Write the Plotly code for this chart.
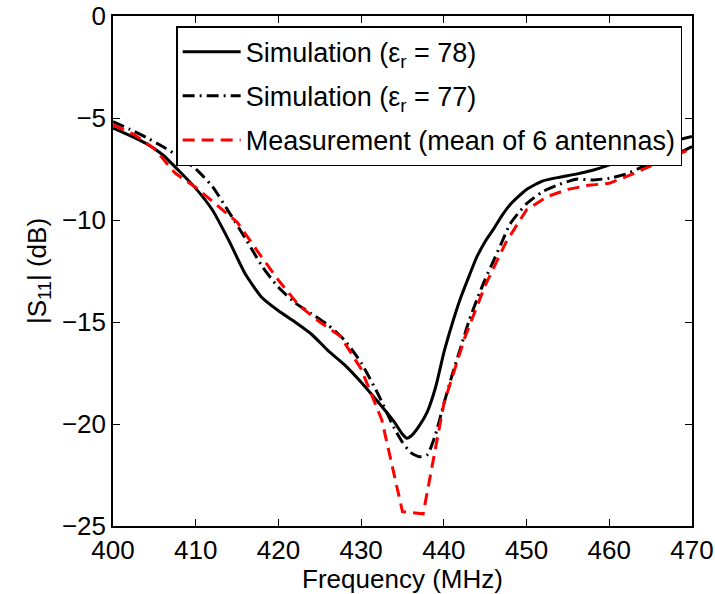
import plotly.graph_objects as go

# Simulation (eps_r = 78)
sim78_f = [400, 402, 404, 406, 408, 410, 412, 414, 416, 418, 420, 422, 424, 426, 428,
           430, 432, 434, 435, 435.5, 436, 437, 438, 439, 440, 441, 442, 443, 444, 445,
           446, 447, 448, 450, 452, 454, 456, 458, 460, 462, 464, 466, 468, 470]
sim78_s = [-5.5, -5.85, -6.25, -6.8, -7.6, -8.45, -9.5, -11.0, -12.65, -13.8, -14.45, -15.0,
           -15.6, -16.4, -17.1, -17.95, -18.9, -19.9, -20.5, -20.7, -20.6, -20.1, -19.4,
           -18.2, -16.5, -15.1, -13.85, -12.8, -11.8, -11.05, -10.45, -9.8, -9.25, -8.5,
           -8.08, -7.9, -7.75, -7.56, -7.3, -6.85, -6.55, -6.3, -6.1, -5.9]

# Simulation (eps_r = 77)
sim77_f = [400, 402, 404, 406, 408, 410, 412, 414, 416, 418, 420, 422, 424, 426, 428,
           430, 432, 434, 435, 436, 437, 438, 439, 440, 441, 442, 443, 444, 445, 446,
           447, 448, 450, 452, 454, 456, 458, 460, 462, 464, 466, 468, 470]
sim77_s = [-5.18, -5.55, -5.95, -6.4, -6.9, -7.5, -8.35, -9.6, -10.9, -12.25, -13.3, -14.05,
           -14.6, -15.15, -15.9, -17.0, -18.5, -20.2, -20.9, -21.4, -21.6, -21.5, -20.5,
           -19.0, -17.6, -16.3, -15.0, -13.9, -12.9, -12.0, -11.1, -10.2, -9.2, -8.6,
           -8.25, -8.0, -8.04, -7.95, -7.75, -7.4, -7.1, -6.8, -6.4]

# Measurement (mean of 6 antennas)
meas_f = [400, 402.5, 405, 407.5, 410, 412.5, 415, 417.5, 420, 422.5, 425, 427.5, 430,
          432.5, 435, 437.5, 440, 442.5, 445, 447.5, 450, 452.5, 455, 457.5, 460, 462.5,
          465, 467.5, 470]
meas_s = [-5.34, -5.8, -6.5, -7.7, -8.4, -9.25, -10.1, -11.55, -12.95, -14.2, -15.0, -15.7,
          -17.3, -19.8, -24.3, -24.4, -19.0, -15.8, -13.2, -11.1, -9.5, -8.85, -8.5, -8.3,
          -8.2, -7.8, -7.35, -6.9, -6.5]

names = ["Simulation (ε<sub>r</sub> = 78)",
         "Simulation (ε<sub>r</sub> = 77)",
         "Measurement (mean of 6 antennas)"]

FONT = "Liberation Sans, Arial, Helvetica, sans-serif"

fig = go.Figure()
fig.add_trace(go.Scatter(x=sim78_f, y=sim78_s, mode="lines", name=names[0],
                         legendgroup="a", line=dict(color="black", width=3, shape="spline", smoothing=0.6)))
fig.add_trace(go.Scatter(x=sim77_f, y=sim77_s, mode="lines", name=names[1],
                         legendgroup="b", line=dict(color="black", width=3, dash="12px,5px,2px,5px",
                                                    shape="spline", smoothing=0.6)))
fig.add_trace(go.Scatter(x=meas_f, y=meas_s, mode="lines", name=names[2],
                         legendgroup="c", line=dict(color="#ff0000", width=3, dash="12px,7px")))

axis_common = dict(showline=True, linecolor="black", linewidth=1.5, mirror="ticks",
                   ticks="inside", ticklen=7, tickwidth=1, tickcolor="black",
                   showgrid=False, zeroline=False, automargin=False,
                   tickfont=dict(family=FONT, size=26, color="black"))

fig.update_xaxes(range=[400, 470], dtick=10, tick0=400,
                 title=dict(text="Frequency (MHz)", font=dict(family=FONT, size=26, color="black"),
                            standoff=0),
                 **axis_common)
fig.update_yaxes(range=[-25, 0], dtick=5, tick0=0,
                 title=dict(text="|S<sub>11</sub>| (dB)", font=dict(family=FONT, size=26, color="black"),
                            standoff=8),
                 **axis_common)

fig.update_layout(
    width=715, height=594,
    margin=dict(l=113, r=23, t=16, b=68),
    plot_bgcolor="white", paper_bgcolor="white",
    font=dict(family=FONT, color="black"),
    legend=dict(x=0.983, y=0.980, xanchor="right", yanchor="top",
                bgcolor="white", bordercolor="black", borderwidth=1.5,
                font=dict(family=FONT, size=27, color="black"),
                itemwidth=58, tracegroupgap=6),
)

fig.write_html("out.html")
